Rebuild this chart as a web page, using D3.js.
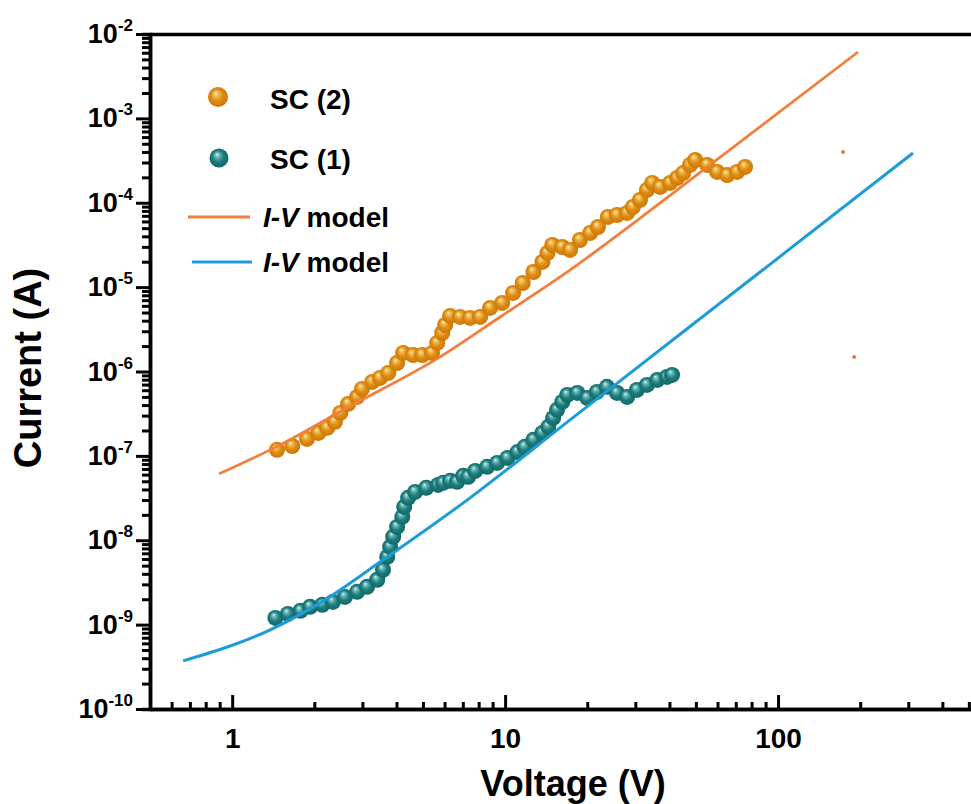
<!DOCTYPE html>
<html>
<head>
<meta charset="utf-8">
<script src="https://cdn.jsdelivr.net/npm/d3@7"></script>
<style>
  body { margin: 0; background: #fff; }
  svg { display: block; font-family: "Liberation Sans", Arial, sans-serif; font-weight: bold; }
</style>
</head>
<body>
<div id="chart"></div>
<script>
// SC (2) measured points
var sc2Voltage = [1.46, 1.66, 1.88, 2.07, 2.23, 2.38, 2.49, 2.66, 2.87, 2.99, 3.26, 3.48, 3.73, 4.02, 4.23,
  4.60, 4.97, 5.40, 5.64, 5.88, 6.03, 6.29, 6.84, 7.44, 8.10, 8.81, 9.75, 10.7, 11.6, 12.7, 13.7, 14.3, 14.9,
  16.2, 17.3, 18.8, 20.5, 21.9, 23.8, 25.7, 28.0, 29.4, 31.2, 33.1, 34.6, 37.0, 40.2, 42.7, 44.9, 47.6, 49.7,
  55.0, 59.8, 65.1, 70.8, 75.7];
var sc2Current = [1.18e-7, 1.31e-7, 1.59e-7, 1.87e-7, 2.15e-7, 2.53e-7, 3.23e-7, 4.13e-7, 5.00e-7, 6.22e-7,
  7.53e-7, 8.40e-7, 9.62e-7, 1.26e-6, 1.66e-6, 1.57e-6, 1.57e-6, 1.66e-6, 2.18e-6, 2.86e-6, 3.56e-6, 4.56e-6,
  4.43e-6, 4.32e-6, 4.43e-6, 5.67e-6, 6.50e-6, 8.53e-6, 1.12e-5, 1.51e-5, 1.99e-5, 2.54e-5, 3.16e-5, 2.99e-5,
  2.76e-5, 3.62e-5, 4.39e-5, 5.16e-5, 6.79e-5, 7.16e-5, 7.57e-5, 8.91e-5, 1.08e-4, 1.42e-4, 1.72e-4, 1.54e-4,
  1.72e-4, 1.97e-4, 2.25e-4, 2.81e-4, 3.21e-4, 2.81e-4, 2.32e-4, 2.13e-4, 2.32e-4, 2.66e-4];

// SC (1) measured points
var sc1Voltage = [1.44, 1.60, 1.78, 1.93, 2.14, 2.34, 2.59, 2.87, 3.12, 3.40, 3.57, 3.70, 3.79, 3.89, 4.02,
  4.20, 4.27, 4.41, 4.68, 5.14, 5.68, 5.93, 6.29, 6.67, 7.02, 7.32, 7.77, 8.59, 9.35, 10.2, 11.1, 11.8, 12.7,
  13.7, 14.4, 15.0, 15.5, 16.2, 16.9, 18.4, 20.0, 21.7, 23.6, 25.7, 28.0, 30.4, 33.1, 36.1, 39.2, 40.9];
var sc1Current = [1.20e-9, 1.34e-9, 1.46e-9, 1.63e-9, 1.72e-9, 1.86e-9, 2.13e-9, 2.45e-9, 2.81e-9, 3.40e-9,
  4.46e-9, 6.35e-9, 8.35e-9, 1.10e-8, 1.44e-8, 1.89e-8, 2.49e-8, 3.18e-8, 3.74e-8, 4.18e-8, 4.53e-8, 4.79e-8,
  5.06e-8, 4.92e-8, 5.80e-8, 5.64e-8, 6.64e-8, 7.41e-8, 8.26e-8, 9.46e-8, 1.11e-7, 1.28e-7, 1.55e-7, 1.87e-7,
  2.21e-7, 2.82e-7, 3.51e-7, 4.36e-7, 5.28e-7, 5.57e-7, 4.86e-7, 5.73e-7, 6.58e-7, 5.57e-7, 5.00e-7, 6.05e-7,
  6.94e-7, 7.94e-7, 8.63e-7, 9.12e-7];

// I-V model curves
var model2Voltage = [0.896, 1.499, 2.551, 5.780, 9.587, 15.91, 56.36, 196.3];
var model2Current = [6.12e-8, 1.35e-7, 3.51e-7, 1.49e-6, 4.43e-6, 1.32e-5, 2.81e-4, 6.12e-3];
var model1Voltage = [0.661, 1.378, 2.101, 3.574, 7.441, 17.30, 85.93, 312.2];
var model1Current = [3.72e-10, 8.67e-10, 1.81e-9, 5.86e-9, 3.18e-8, 2.67e-7, 1.51e-5, 3.89e-4];

// two stray orange specks on the right
var strayVoltage = [173, 190];
var strayCurrent = [4.0e-4, 1.49e-6];

var xTickLabels = [1, 10, 100];
var yTickExponents = [-10, -9, -8, -7, -6, -5, -4, -3, -2];

var width = 971,
  height = 804;

var x = d3.scaleLog().domain([0.5, 1000]).range([150, 1051]);
var y = d3.scaleLog().domain([1e-10, 1e-2]).range([709, 34]);

var svg = d3.select("#chart").append("svg")
  .attr("width", width)
  .attr("height", height);

var defs = svg.append("defs");

function sphereGradient(id, stops) {
  var g = defs.append("radialGradient")
    .attr("id", id)
    .attr("cx", "50%").attr("cy", "50%").attr("r", "55%")
    .attr("fx", "38%").attr("fy", "30%");
  stops.forEach(function(s) {
    g.append("stop").attr("offset", s[0]).attr("stop-color", s[1]);
  });
}
sphereGradient("ballOrange", [["0%", "#fbf1b8"], ["22%", "#efbd55"], ["55%", "#df8b12"], ["100%", "#c77404"]]);
sphereGradient("ballTeal", [["0%", "#d8f2f2"], ["22%", "#6ab8b8"], ["55%", "#1c7d7d"], ["100%", "#126363"]]);

// axes
var majorX = xTickLabels;
var minorX = x.ticks().filter(function(d) { return majorX.indexOf(d) < 0; });
var majorY = yTickExponents.map(function(e) { return Math.pow(10, e); });
var minorY = y.ticks().filter(function(d) {
  return Math.abs(Math.log10(d) - Math.round(Math.log10(d))) > 1e-6;
});

function styleAxis(g) {
  g.selectAll("path.domain").attr("stroke", "#000").attr("stroke-width", 3.5);
  g.selectAll(".tick line").attr("stroke", "#000").attr("stroke-width", 3);
}

svg.append("g")
  .attr("transform", "translate(0," + y(1e-2) + ")")
  .call(d3.axisTop(x).tickValues([]).tickSizeOuter(0))
  .call(styleAxis);

svg.append("g")
  .attr("transform", "translate(0," + y(1e-10) + ")")
  .call(d3.axisBottom(x).tickValues(minorX).tickSizeInner(-7).tickSizeOuter(0).tickFormat(""))
  .call(styleAxis);

var xMajor = svg.append("g")
  .attr("transform", "translate(0," + y(1e-10) + ")")
  .call(d3.axisBottom(x).tickValues(majorX).tickSizeInner(-14).tickSizeOuter(0)
    .tickPadding(19).tickFormat(d3.format("d")))
  .call(styleAxis);
xMajor.selectAll("text")
  .attr("font-size", 28)
  .attr("font-family", "Liberation Sans, Arial, sans-serif")
  .attr("font-weight", "bold")
  .attr("fill", "#000");

svg.append("g")
  .attr("transform", "translate(" + x(0.5) + ",0)")
  .call(d3.axisLeft(y).tickValues(minorY).tickSize(8).tickFormat(""))
  .call(styleAxis);

svg.append("g")
  .attr("transform", "translate(" + x(0.5) + ",0)")
  .call(d3.axisLeft(y).tickValues(majorY).tickSizeInner(14).tickSizeOuter(0).tickFormat(""))
  .call(styleAxis);

var yLabels = svg.append("g").selectAll("text")
    .data(yTickExponents)
    .enter()
  .append("text")
    .attr("x", 133)
    .attr("y", function(d) { return y(Math.pow(10, d)) + 9; })
    .attr("text-anchor", "end")
    .attr("font-size", 27);
yLabels.append("tspan").text("10");
yLabels.append("tspan")
  .attr("dy", -12)
  .attr("font-size", 17)
  .text(function(d) { return String(d); });

// axis titles
svg.append("text")
  .attr("x", 573)
  .attr("y", 796)
  .attr("text-anchor", "middle")
  .attr("font-size", 36)
  .text("Voltage (V)");

svg.append("text")
  .attr("transform", "translate(41,368) rotate(-90)")
  .attr("text-anchor", "middle")
  .attr("font-size", 38)
  .text("Current (A)");

// measured data as shaded balls
function balls(vs, cs, fill) {
  svg.append("g").selectAll("circle")
      .data(d3.zip(vs, cs))
      .enter()
    .append("circle")
      .attr("cx", function(d) { return x(d[0]); })
      .attr("cy", function(d) { return y(d[1]); })
      .attr("r", 8)
      .attr("fill", fill);
}
balls(sc2Voltage, sc2Current, "url(#ballOrange)");
balls(sc1Voltage, sc1Current, "url(#ballTeal)");

var line = d3.line()
  .x(function(d) { return x(d[0]); })
  .y(function(d) { return y(d[1]); })
  .curve(d3.curveMonotoneX);

svg.append("path")
  .datum(d3.zip(model2Voltage, model2Current))
  .attr("d", line)
  .attr("fill", "none")
  .attr("stroke", "#f0803c")
  .attr("stroke-width", 2.8);

svg.append("path")
  .datum(d3.zip(model1Voltage, model1Current))
  .attr("d", line)
  .attr("fill", "none")
  .attr("stroke", "#1d9cd8")
  .attr("stroke-width", 3);

svg.append("g").selectAll("circle")
    .data(d3.zip(strayVoltage, strayCurrent))
    .enter()
  .append("circle")
    .attr("cx", function(d) { return x(d[0]); })
    .attr("cy", function(d) { return y(d[1]); })
    .attr("r", 2)
    .attr("fill", "#e07a3a");

// legend
var legend = svg.append("g");
legend.append("circle").attr("cx", 218).attr("cy", 97).attr("r", 10).attr("fill", "url(#ballOrange)");
legend.append("circle").attr("cx", 219).attr("cy", 158).attr("r", 9.5).attr("fill", "url(#ballTeal)");
legend.append("text").attr("x", 270).attr("y", 109).attr("font-size", 28).text("SC (2)");
legend.append("text").attr("x", 270).attr("y", 169).attr("font-size", 28).text("SC (1)");

legend.append("line").attr("x1", 188).attr("x2", 250).attr("y1", 217).attr("y2", 217)
  .attr("stroke", "#f0803c").attr("stroke-width", 3);
legend.append("line").attr("x1", 192).attr("x2", 252).attr("y1", 262).attr("y2", 262)
  .attr("stroke", "#1d9cd8").attr("stroke-width", 3);

[227, 272].forEach(function(yy) {
  var t = legend.append("text").attr("x", 263).attr("y", yy).attr("font-size", 28);
  t.append("tspan").attr("font-style", "italic").text("I-V");
  t.append("tspan").text(" model");
});
</script>
</body>
</html>
